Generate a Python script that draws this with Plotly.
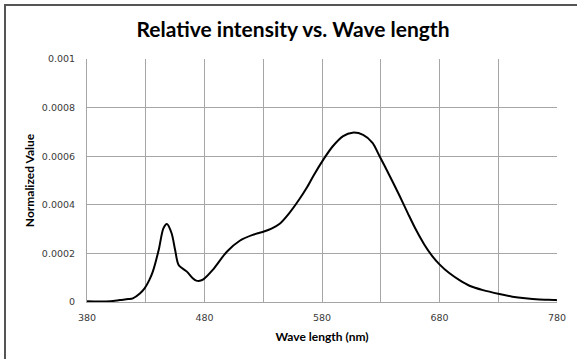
import plotly.graph_objects as go

# Emission spectrum samples: wavelength (nm) and normalized intensity
wavelength = [380, 390, 400, 408, 415, 419, 425, 429, 433, 436, 441, 445, 448,
              452, 455, 458, 465, 470, 473, 476, 479, 487, 499, 510, 521, 530,
              537, 544, 552, 561, 567, 573, 581, 589, 598, 606, 615, 623, 629,
              637, 646, 653, 660, 667, 674, 680, 688, 697, 706, 717, 731, 742,
              753, 765, 779, 780]
intensity = [0.000003, 0.000002, 0.000003, 0.000008, 0.000012, 0.000015,
             0.000035, 0.000056, 0.000090, 0.000125, 0.000214, 0.000303,
             0.000321, 0.000283, 0.000214, 0.000152, 0.000125, 0.000098,
             0.000088, 0.000087, 0.000093, 0.000132, 0.000207, 0.000252,
             0.000276, 0.000289, 0.000302, 0.000322, 0.000365, 0.000425,
             0.000470, 0.000522, 0.000585, 0.000640, 0.000683, 0.000697,
             0.000688, 0.000655, 0.000600, 0.000525, 0.000437, 0.000366,
             0.000297, 0.000237, 0.000188, 0.000155, 0.000120, 0.000090,
             0.000066, 0.000049, 0.000033, 0.000022, 0.000015, 0.000010,
             0.000008, 0.000007]

x_ticks = [380, 480, 580, 680, 780]
x_grid = list(range(380, 781, 50))
y_ticks = [0, 0.0002, 0.0004, 0.0006, 0.0008, 0.001]
y_tick_labels = ["0", "0.0002", "0.0004", "0.0006", "0.0008", "0.001"]

W, H = 577, 359
L, R, T, B = 87, 20, 59, 57
pw, ph = W - L - R, H - T - B


def px(x):
    return (x - L) / pw


def py(y):
    return (H - B - y) / ph


fig = go.Figure()
fig.add_trace(go.Scatter(
    x=wavelength, y=intensity, mode="lines",
    line=dict(color="black", width=2, shape="spline", smoothing=0.8),
    hoverinfo="skip", showlegend=False,
))

grid = "#a6a6a6"
tick_font = dict(family="DejaVu Sans", size=9.5, color="#3a3a3a")
title_font = dict(family="Lato", size=12, color="black")
fig.update_layout(
    width=W, height=H,
    margin=dict(l=L, r=R, t=T, b=B),
    paper_bgcolor="white", plot_bgcolor="white",
    title=dict(text="<b>Relative intensity vs. Wave length</b>",
               x=293 / W, xref="container", xanchor="center",
               y=1 - 30 / H, yanchor="middle",
               font=dict(family="Lato", size=21, color="black")),
    xaxis=dict(range=[380, 780], tickvals=x_grid,
               ticktext=[str(v) if v in x_ticks else "" for v in x_grid],
               showgrid=True, gridcolor=grid, gridwidth=1, showline=True,
               linecolor=grid, zeroline=False, ticks="", tickfont=tick_font,
               ticklabelstandoff=7,
               title=dict(text="<b>Wave length (nm)</b>", standoff=10,
                          font=title_font)),
    yaxis=dict(range=[0, 0.001], tickvals=y_ticks, ticktext=y_tick_labels,
               showgrid=True, gridcolor=grid, gridwidth=1, showline=True,
               linecolor=grid, zeroline=False, ticks="", tickfont=tick_font,
               ticklabelstandoff=9,
               title=dict(text="<b>Normalized Value</b>", standoff=4,
                          font=title_font)),
    shapes=[
        dict(type="line", xref="paper", yref="paper", x0=px(4), x1=px(W),
             y0=py(5), y1=py(5), line=dict(color="#555555", width=2)),
        dict(type="line", xref="paper", yref="paper", x0=px(5), x1=px(5),
             y0=py(5), y1=py(H), line=dict(color="#555555", width=2)),
    ],
)

fig.write_html("out.html")
